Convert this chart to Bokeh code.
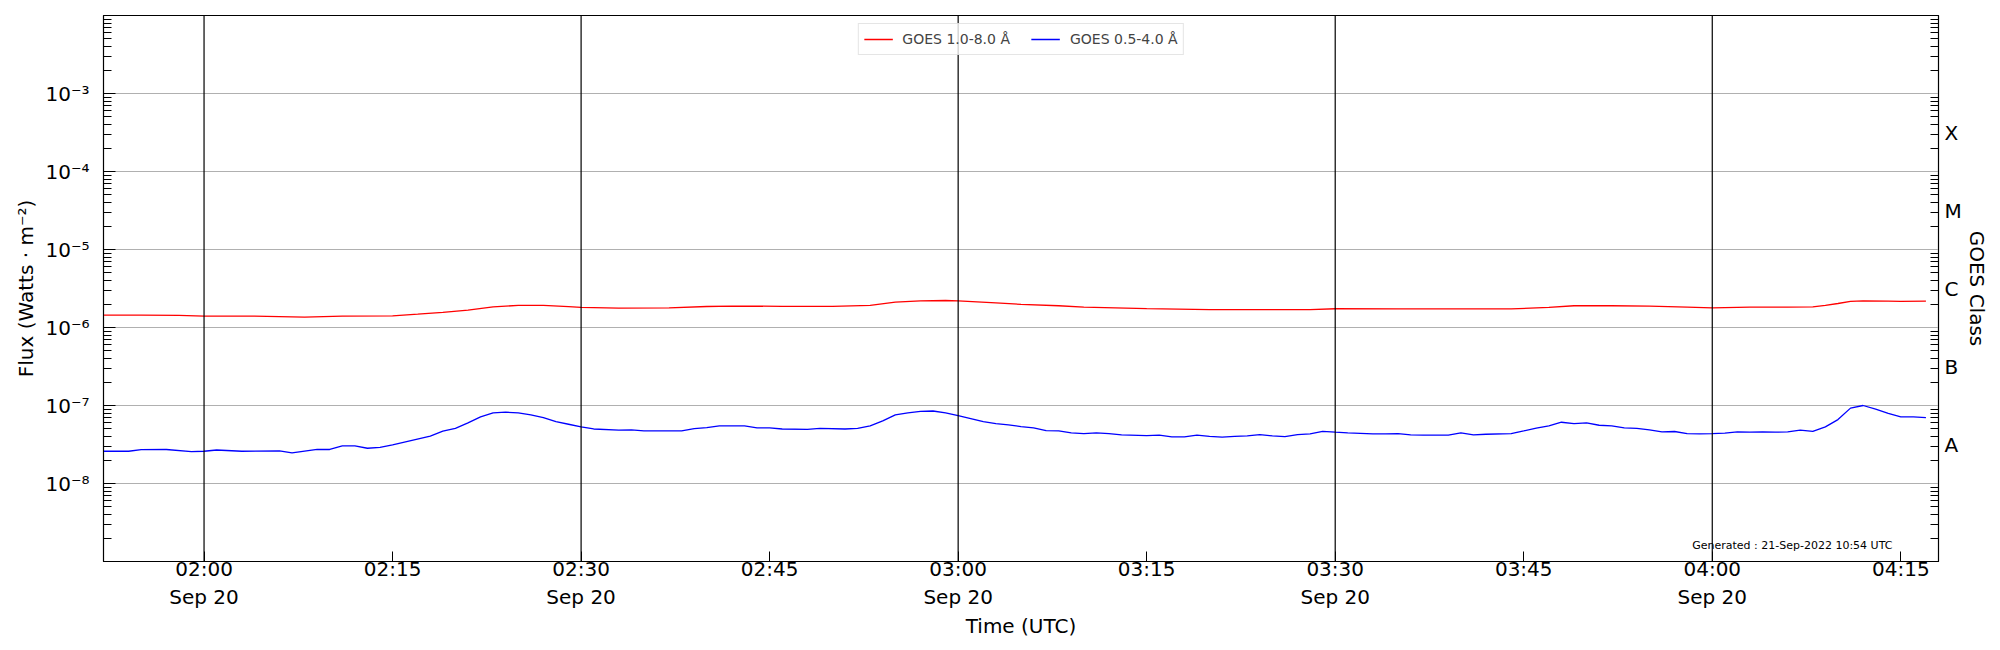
import pandas as pd
from bokeh.plotting import figure
from bokeh.models import FixedTicker, LogAxis, Span, Legend, LegendItem, Label, Range1d
from bokeh.embed import file_html
from bokeh.resources import INLINE

day = "2022-09-20"

# GOES 1.0-8.0 A (long channel)
long_times = ["01:52", "01:55", "01:58", "02:00", "02:04", "02:08", "02:11", "02:15", "02:17",
              "02:19", "02:21", "02:23", "02:25", "02:27", "02:29", "02:30", "02:33", "02:37",
              "02:40", "02:42", "02:46", "02:50", "02:53", "02:55", "02:57", "02:59", "03:00",
              "03:03", "03:05", "03:08", "03:10", "03:15", "03:20", "03:25", "03:28", "03:30",
              "03:35", "03:40", "03:44", "03:47", "03:49", "03:52", "03:55", "03:58", "04:00",
              "04:03", "04:06", "04:08", "04:09", "04:10", "04:11", "04:12", "04:14", "04:15",
              "04:17"]
long_flux = [1.44e-6, 1.44e-6, 1.43e-6, 1.40e-6, 1.40e-6, 1.36e-6, 1.40e-6, 1.41e-6, 1.48e-6,
             1.56e-6, 1.67e-6, 1.84e-6, 1.92e-6, 1.92e-6, 1.85e-6, 1.81e-6, 1.77e-6, 1.79e-6,
             1.86e-6, 1.88e-6, 1.87e-6, 1.87e-6, 1.92e-6, 2.11e-6, 2.20e-6, 2.22e-6, 2.20e-6,
             2.07e-6, 1.98e-6, 1.90e-6, 1.83e-6, 1.75e-6, 1.70e-6, 1.69e-6, 1.70e-6, 1.74e-6,
             1.73e-6, 1.73e-6, 1.73e-6, 1.81e-6, 1.90e-6, 1.90e-6, 1.88e-6, 1.83e-6, 1.79e-6,
             1.82e-6, 1.83e-6, 1.84e-6, 1.92e-6, 2.03e-6, 2.16e-6, 2.20e-6, 2.18e-6, 2.16e-6,
             2.18e-6]

# GOES 0.5-4.0 A (short channel)
short_times = ["01:52", "01:54", "01:55", "01:57", "01:59", "02:00", "02:01", "02:03", "02:06",
               "02:07", "02:09", "02:10", "02:11", "02:12", "02:13", "02:14", "02:15", "02:18",
               "02:19", "02:20", "02:21", "02:22", "02:23", "02:24", "02:25", "02:26", "02:27",
               "02:28", "02:29", "02:30", "02:31", "02:33", "02:34", "02:35", "02:38", "02:39",
               "02:40", "02:41", "02:43", "02:44", "02:45", "02:46", "02:48", "02:49", "02:51",
               "02:52", "02:53", "02:54", "02:55", "02:56", "02:57", "02:58", "02:59", "03:00",
               "03:01", "03:02", "03:03", "03:04", "03:05", "03:06", "03:07", "03:08", "03:09",
               "03:10", "03:11", "03:12", "03:13", "03:15", "03:16", "03:17", "03:18", "03:19",
               "03:20", "03:21", "03:22", "03:23", "03:24", "03:25", "03:26", "03:27", "03:28",
               "03:29", "03:30", "03:31", "03:33", "03:34", "03:35", "03:36", "03:37", "03:39",
               "03:40", "03:41", "03:42", "03:44", "03:45", "03:46", "03:47", "03:48", "03:49",
               "03:50", "03:51", "03:52", "03:53", "03:54", "03:55", "03:56", "03:57", "03:58",
               "03:59", "04:00", "04:01", "04:02", "04:03", "04:04", "04:05", "04:06", "04:07",
               "04:08", "04:09", "04:10", "04:11", "04:12", "04:13", "04:14", "04:15", "04:16",
               "04:17"]
short_flux = [2.59e-8, 2.59e-8, 2.72e-8, 2.73e-8, 2.57e-8, 2.59e-8, 2.69e-8, 2.59e-8, 2.62e-8,
              2.47e-8, 2.73e-8, 2.73e-8, 3.03e-8, 3.03e-8, 2.83e-8, 2.91e-8, 3.13e-8, 4.04e-8,
              4.68e-8, 5.10e-8, 5.98e-8, 7.15e-8, 8.05e-8, 8.20e-8, 8.05e-8, 7.60e-8, 7.00e-8,
              6.20e-8, 5.75e-8, 5.32e-8, 5.00e-8, 4.82e-8, 4.87e-8, 4.72e-8, 4.72e-8, 5.05e-8,
              5.20e-8, 5.48e-8, 5.48e-8, 5.16e-8, 5.16e-8, 5.00e-8, 4.95e-8, 5.10e-8, 5.00e-8,
              5.10e-8, 5.48e-8, 6.35e-8, 7.60e-8, 8.05e-8, 8.40e-8, 8.50e-8, 8.05e-8, 7.44e-8,
              6.80e-8, 6.20e-8, 5.87e-8, 5.65e-8, 5.37e-8, 5.16e-8, 4.77e-8, 4.72e-8, 4.46e-8,
              4.37e-8, 4.46e-8, 4.37e-8, 4.20e-8, 4.12e-8, 4.16e-8, 3.95e-8, 3.95e-8, 4.16e-8,
              4.03e-8, 3.92e-8, 4.03e-8, 4.08e-8, 4.24e-8, 4.08e-8, 3.99e-8, 4.24e-8, 4.33e-8,
              4.67e-8, 4.55e-8, 4.46e-8, 4.33e-8, 4.33e-8, 4.37e-8, 4.20e-8, 4.16e-8, 4.16e-8,
              4.46e-8, 4.20e-8, 4.28e-8, 4.37e-8, 4.72e-8, 5.12e-8, 5.48e-8, 6.10e-8, 5.87e-8,
              5.98e-8, 5.58e-8, 5.48e-8, 5.16e-8, 5.10e-8, 4.87e-8, 4.59e-8, 4.64e-8, 4.37e-8,
              4.33e-8, 4.37e-8, 4.42e-8, 4.59e-8, 4.55e-8, 4.59e-8, 4.55e-8, 4.59e-8, 4.82e-8,
              4.67e-8, 5.32e-8, 6.60e-8, 9.25e-8, 1.00e-7, 8.97e-8, 7.90e-8, 7.15e-8, 7.15e-8,
              7.00e-8]

x_tick_times = ["02:00", "02:15", "02:30", "02:45", "03:00", "03:15", "03:30", "03:45", "04:00", "04:15"]
x_tick_labels = ["02:00\nSep 20", "02:15", "02:30\nSep 20", "02:45", "03:00\nSep 20", "03:15",
                 "03:30\nSep 20", "03:45", "04:00\nSep 20", "04:15"]
half_hour_lines = ["02:00", "02:30", "03:00", "03:30", "04:00"]
x_start, x_end = "01:52", "04:18"
y_exponents = [-8, -7, -6, -5, -4, -3]
y_labels = ["10⁻⁸", "10⁻⁷", "10⁻⁶", "10⁻⁵", "10⁻⁴", "10⁻³"]
goes_classes = ["A", "B", "C", "M", "X"]
goes_exponents = [-7.5, -6.5, -5.5, -4.5, -3.5]


def ts(t):
    return pd.Timestamp(f"{day} {t}")


def ms(t):
    return ts(t).value / 1e6


FONT = "DejaVu Sans"

p = figure(frame_width=1835, frame_height=546, x_axis_type="datetime", y_axis_type="log",
           x_range=Range1d(ts(x_start), ts(x_end)), y_range=Range1d(1e-9, 1e-2),
           output_backend="svg", toolbar_location=None,
           min_border_left=103, min_border_right=52, min_border_top=15, min_border_bottom=70)
p.background_fill_color = "white"
p.border_fill_color = "white"
p.outline_line_color = "black"
p.outline_line_width = 1.2

r_long = p.line([ts(t) for t in long_times], long_flux, line_color="red", line_width=1.3)
r_short = p.line([ts(t) for t in short_times], short_flux, line_color="blue", line_width=1.3)

for t in half_hour_lines:
    p.add_layout(Span(location=ms(t), dimension="height", line_color="black", line_width=1.2))

minor = []
for e in range(-9, -1):
    for m in range(2, 10):
        minor.append(m * 10.0 ** e)

# x axis
xa = p.xaxis[0]
xa.ticker = FixedTicker(ticks=[ms(t) for t in x_tick_times], minor_ticks=[])
xa.major_label_overrides = {ms(t): lab for t, lab in zip(x_tick_times, x_tick_labels)}
xa.axis_label = "Time (UTC)"
xa.major_tick_in = 10
xa.major_tick_out = 0
xa.minor_tick_in = 0
xa.minor_tick_out = 0
xa.major_label_standoff = -5
xa.axis_label_standoff = 2

# left y axis
ya = p.yaxis[0]
ya.ticker = FixedTicker(ticks=[10.0 ** e for e in y_exponents], minor_ticks=minor)
ya.major_label_overrides = {10.0 ** e: lab for e, lab in zip(y_exponents, y_labels)}
ya.axis_label = "Flux (Watts · m⁻²)"
ya.major_tick_in = 12
ya.major_tick_out = 0
ya.minor_tick_in = 8
ya.minor_tick_out = 0
ya.major_label_standoff = 14
ya.axis_label_standoff = 4

# right GOES class axis
ra = LogAxis(ticker=FixedTicker(ticks=[10.0 ** e for e in goes_exponents], minor_ticks=minor),
             major_label_overrides={10.0 ** e: c for e, c in zip(goes_exponents, goes_classes)},
             axis_label="GOES Class")
ra.major_tick_in = 0
ra.major_tick_out = 0
ra.minor_tick_in = 8
ra.minor_tick_out = 0
ra.major_label_standoff = 6
ra.axis_label_standoff = 0
p.add_layout(ra, "right")

for ax in [xa, ya, ra]:
    ax.axis_line_color = "black"
    ax.major_tick_line_color = "black"
    ax.minor_tick_line_color = "black"
    ax.major_label_text_font = FONT
    ax.major_label_text_font_size = "20px"
    ax.major_label_text_color = "black"
    ax.axis_label_text_font = FONT
    ax.axis_label_text_font_size = "20px"
    ax.axis_label_text_font_style = "normal"
    ax.axis_label_text_color = "black"

p.xgrid.grid_line_color = None
p.ygrid.grid_line_color = "#b0b0b0"
p.ygrid.grid_line_width = 1.2
p.ygrid.minor_grid_line_color = None

legend = Legend(items=[LegendItem(label="GOES 1.0-8.0 Å", renderers=[r_long]),
                       LegendItem(label="GOES 0.5-4.0 Å", renderers=[r_short])],
                location="top_center", orientation="horizontal")
legend.label_text_font = FONT
legend.label_text_font_size = "14px"
legend.glyph_width = 29
legend.label_standoff = 10
legend.spacing = 21
legend.padding = 5
legend.margin = 8
legend.border_line_color = "#cccccc"
legend.border_line_width = 1
legend.background_fill_alpha = 0.8
p.add_layout(legend)

p.add_layout(Label(x=ms("04:14:20"), y=10 ** -8.79, text="Generated : 21-Sep-2022 10:54 UTC",
                   text_align="right", text_baseline="middle", text_font=FONT,
                   text_font_size="11px", text_color="black"))

open("out.html", "w").write(file_html(p, INLINE))
